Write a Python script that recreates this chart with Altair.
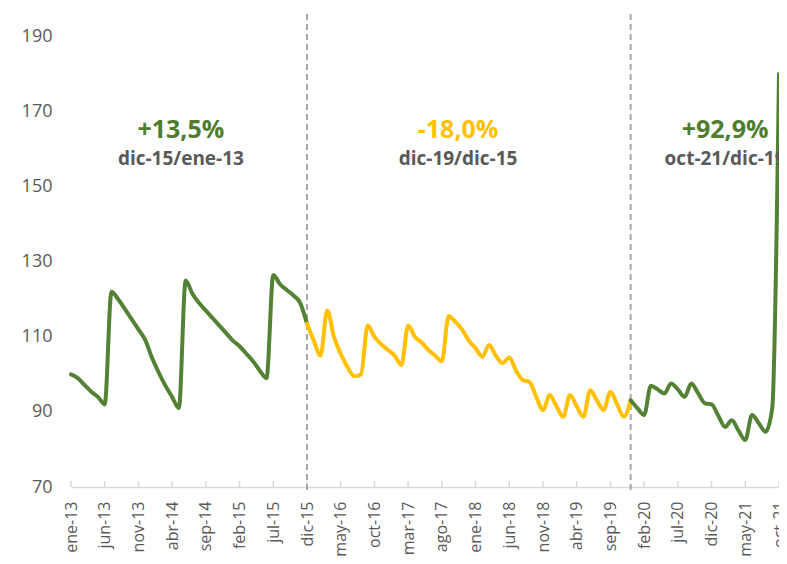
import altair as alt
import pandas as pd

# ---- data (monthly index, ene-13 = 100) ----
month_names = ["ene", "feb", "mar", "abr", "may", "jun", "jul", "ago", "sep", "oct", "nov", "dic"]
start_year = 13
values = [
    100, 99, 97.2, 95.4, 94, 92, 122, 120, 117.4, 114.7, 112, 109.2,          # 2013
    104.5, 100.5, 97, 94, 91, 125, 121.5, 119, 117, 115, 113, 111,            # 2014
    109, 107.5, 105.5, 103.5, 101, 99, 126.5, 124, 122.5, 121, 119, 113.5,    # 2015
    109, 105, 117, 110, 105.5, 102, 99.5, 100, 113, 110, 108, 106.5,          # 2016
    105, 102.5, 113, 110, 108.5, 106.5, 105, 103.5, 115.5, 114, 112, 109,     # 2017
    107, 104.7, 107.8, 105, 103, 104.5, 101, 98.5, 98, 94, 90.5, 94.5,        # 2018
    91.5, 88.7, 94.5, 91.5, 88.7, 95.8, 93, 90.5, 95.4, 92, 88.7, 93.1,       # 2019
    91, 89.2, 97, 96, 94.9, 97.6, 96, 94, 97.6, 95, 92.3, 92,                 # 2020
    89, 86, 87.8, 85, 82.5, 89.2, 87, 84.7, 91, 180,                          # 2021
]
period_names = ["p1", "p2", "p3"]
period_bounds = [(0, 35), (35, 83), (83, 105)]
period_colors = ["#548235", "#FFC000", "#548235"]
divider_months = [35, 83]
tick_months = list(range(0, 106, 5))

ann_pct = ["+13,5%", "-18,0%", "+92,9%"]
ann_ref = ["dic-15/ene-13", "dic-19/dic-15", "oct-21/dic-19"]
ann_x = [16.3, 57.4, 97.0]
ann_pct_colors = ["#4E7D2E", "#FFC000", "#4E7D2E"]

# ---- build tables ----
rows = []
for name, (a, b) in zip(period_names, period_bounds):
    for i in range(a, b + 1):
        rows.append({"m": i, "v": values[i], "period": name})
line_df = pd.DataFrame(rows)

ann_df = pd.DataFrame({"x": ann_x, "pct": ann_pct, "ref": ann_ref, "period": period_names})
div_df = pd.DataFrame({"m": divider_months})
tick_df = pd.DataFrame({"m": tick_months})

W, H = 708, 473
month_arr = "[" + ",".join(f"'{m}'" for m in month_names) + "]"
label_expr = f"{month_arr}[datum.value % 12] + '-' + ({start_year} + floor(datum.value / 12))"

xscale = alt.Scale(domain=[0, 105], nice=False, zero=False)
yscale = alt.Scale(domain=[70, 196], nice=False, zero=False)

x_axis = alt.Axis(
    values=tick_months, labelExpr=label_expr, labelAngle=-90, labelFont="Open Sans",
    labelFontSize=16, labelColor="#595959", labelPadding=14, ticks=False,
    domainColor="#D9D9D9", domainWidth=1.5, grid=False, title=None, labelOverlap=False,
    labelBound=False, labelFlush=False, labelSeparation=0,
)
y_axis = alt.Axis(
    values=[70, 90, 110, 130, 150, 170, 190], labelFont="Open Sans", labelFontSize=18,
    labelColor="#595959", labelPadding=19, ticks=False, domain=False, grid=False, title=None,
)

X = lambda f: alt.X(f, scale=xscale, axis=x_axis)

base_line = alt.Chart(line_df).mark_line(strokeWidth=4, interpolate="monotone", strokeCap="round").encode(
    x=X("m:Q"),
    y=alt.Y("v:Q", scale=yscale, axis=y_axis),
    color=alt.Color("period:N", scale=alt.Scale(domain=period_names, range=period_colors), legend=None),
    detail="period:N",
)

ticks = alt.Chart(tick_df).mark_rule(color="#D9D9D9", strokeWidth=1.5).encode(
    x=X("m:Q"),
    y=alt.value(H),
    y2=alt.value(H - 6),
)

dividers = alt.Chart(div_df).mark_rule(color="#A6A6A6", strokeWidth=2, strokeDash=[6, 4]).encode(
    x=X("m:Q"),
    y=alt.value(0),
    y2=alt.value(H + 3),
)

pct_text = alt.Chart(ann_df).mark_text(
    font="Open Sans", fontSize=25, fontWeight="bold", baseline="middle", align="center"
).encode(
    x=X("x:Q"),
    y=alt.value(116),
    text="pct:N",
    color=alt.Color("period:N", scale=alt.Scale(domain=period_names, range=ann_pct_colors), legend=None),
)

ref_text = alt.Chart(ann_df).mark_text(
    font="Open Sans", fontSize=19, fontWeight="bold", baseline="middle", align="center", color="#595959"
).encode(
    x=X("x:Q"),
    y=alt.value(145),
    text="ref:N",
)

chart = alt.layer(ticks, dividers, base_line, pct_text, ref_text).resolve_scale(color="independent").properties(
    width=W, height=H,
    background="white",
    autosize=alt.AutoSizeParams(type="none"),
    padding={"left": 63, "top": 6, "right": 0, "bottom": 69},
).configure_view(strokeWidth=0, stroke="transparent").configure_axisX(labelOverlap=False)

chart.save("out.html", embed_options={"renderer": "svg", "actions": False})
